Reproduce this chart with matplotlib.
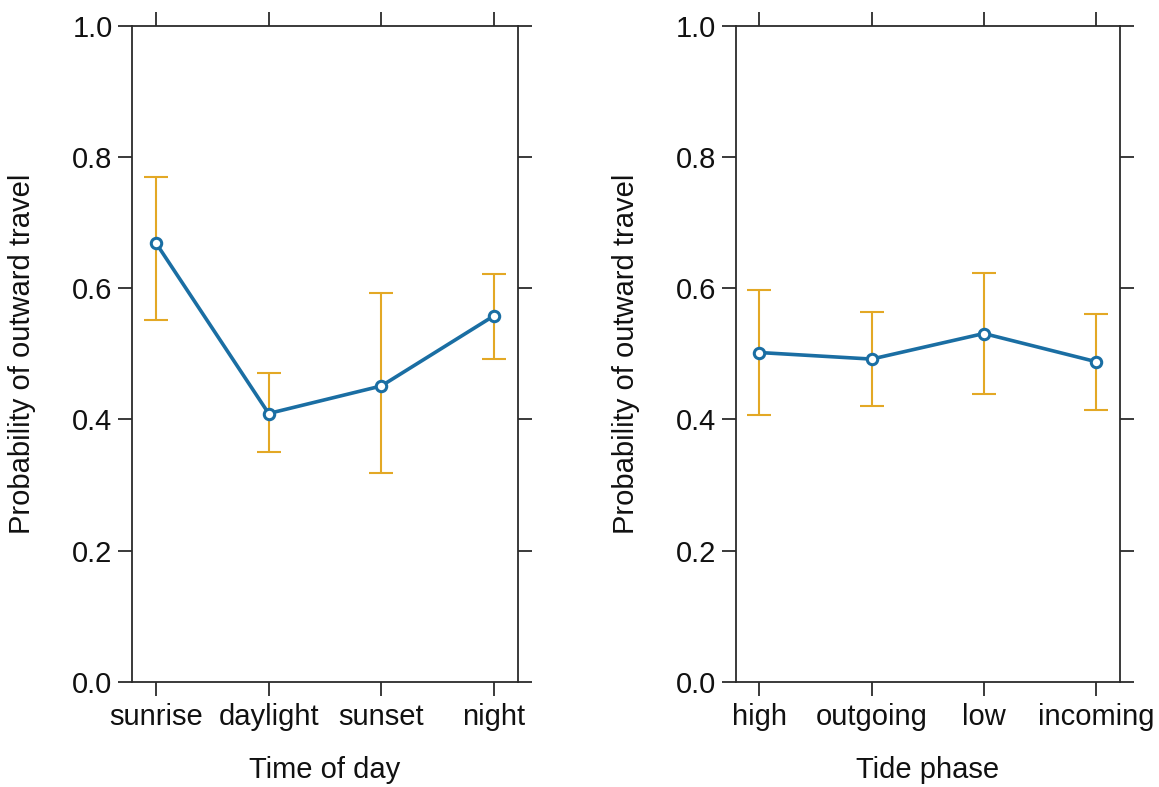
import matplotlib
matplotlib.use("Agg")
import matplotlib.pyplot as plt
import numpy as np

plt.rcParams["font.family"] = ["Liberation Sans", "DejaVu Sans"]

# fitted probabilities with lower / upper confidence limits
time_cats = ["sunrise", "daylight", "sunset", "night"]
time_fit = [0.669, 0.409, 0.451, 0.558]
time_lower = [0.551, 0.350, 0.318, 0.492]
time_upper = [0.769, 0.471, 0.593, 0.621]

tide_cats = ["high", "outgoing", "low", "incoming"]
tide_fit = [0.502, 0.492, 0.531, 0.488]
tide_lower = [0.406, 0.421, 0.438, 0.415]
tide_upper = [0.598, 0.564, 0.624, 0.561]

LINE_COL = "#1a6ea3"
ERR_COL = "#e3a825"
FRAME_COL = "#2b2b2b"
FS = 21


def effect_panel(ax, cats, fit, lower, upper, xlabel):
    x = np.arange(len(cats))
    fit = np.asarray(fit)
    yerr = [fit - np.asarray(lower), np.asarray(upper) - fit]
    ax.errorbar(x, fit, yerr=yerr, fmt="none", ecolor=ERR_COL,
                elinewidth=1.5, capsize=8.5, capthick=1.5, zorder=2)
    ax.plot(x, fit, color=LINE_COL, lw=2.6, marker="o", ms=7.5,
            mfc="white", mec=LINE_COL, mew=2.2, zorder=3)

    ax.set_xlim(-0.213, 3.21)
    ax.set_ylim(0, 1)
    ax.set_xticks(x)
    ax.set_xticklabels(cats)
    ax.set_yticks([0.0, 0.2, 0.4, 0.6, 0.8, 1.0])
    ax.set_yticklabels(["0.0", "0.2", "0.4", "0.6", "0.8", "1.0"])
    ax.tick_params(direction="out", length=10, width=1.3, color=FRAME_COL,
                   labelsize=FS, labelcolor="#111111", top=True, right=True,
                   pad=4)
    ax.tick_params(axis="x", pad=5)
    for sp in ax.spines.values():
        sp.set_color(FRAME_COL)
        sp.set_linewidth(1.3)

    ax.set_ylabel("Probability of outward travel", fontsize=FS,
                  color="#111111", va="center")
    ax.yaxis.set_label_coords(-0.285, 0.5)
    ax.set_xlabel(xlabel, fontsize=FS, color="#111111", va="center")
    ax.xaxis.set_label_coords(0.5, -0.135)


fig = plt.figure(figsize=(11.59, 7.87), dpi=100)
ax1 = fig.add_axes([0.1139, 0.1338, 0.3327, 0.8332])
ax2 = fig.add_axes([0.6346, 0.1338, 0.3315, 0.8332])

effect_panel(ax1, time_cats, time_fit, time_lower, time_upper, "Time of day")
effect_panel(ax2, tide_cats, tide_fit, tide_lower, tide_upper, "Tide phase")

fig.savefig("out.png", dpi=100)
